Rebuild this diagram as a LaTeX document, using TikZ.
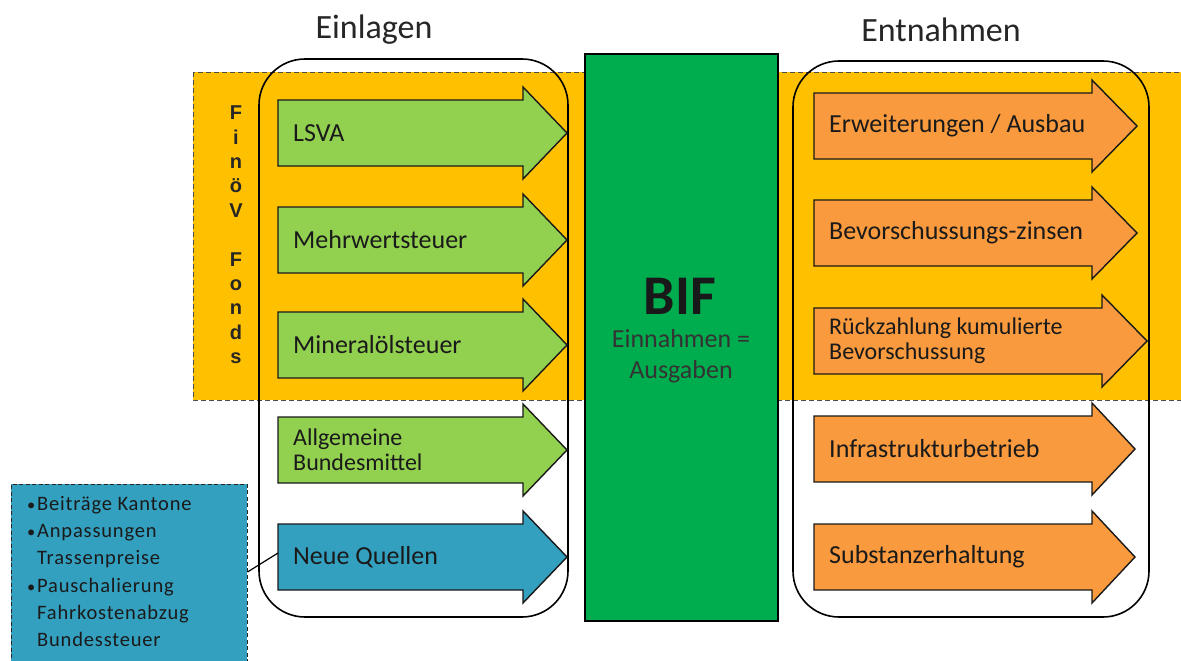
\documentclass[tikz,border=0pt]{standalone}
\usepackage{fontspec}
\setmainfont{Carlito}
\newfontfamily\finfont{Liberation Sans}
\newfontfamily\spacedfont{Carlito}[LetterSpace=4]
\definecolor{bandyellow}{HTML}{FFC000}
\definecolor{arrgreen}{HTML}{92D050}
\definecolor{arrorange}{HTML}{F99A3E}
\definecolor{arrblue}{HTML}{34A0C0}
\definecolor{bifgreen}{HTML}{00AD4E}
\definecolor{txtdark}{HTML}{1A1A1A}
\newcommand\flowarrow[7]{%
  \draw[arrowline, fill=#6] (#2,#3-33) -- (#4,#3-33) -- (#4,#3-46) -- (#5,#3) -- (#4,#3+46) -- (#4,#3+33) -- (#2,#3+33) -- cycle;
  \node[arrtext] (#1) at (#2+15,#3) {#7};
  \coordinate (#1-tail) at (#2,#3);
}
\tikzset{
  arrowline/.style={draw=black!90, line width=1.4pt, line join=miter},
  arrtext/.style={anchor=west, inner sep=0pt, text=txtdark, font=\fontsize{26}{25}\selectfont, align=left},
  groupbox/.style={draw=black, line width=1.6pt, rounded corners=46pt},
  header/.style={font=\fontsize{34}{36}\selectfont, text=black!85},
}
\begin{document}
\begin{tikzpicture}[x=1pt,y=-1pt]
\useasboundingbox (0,0) rectangle (1181,661);
% Fonds band
\draw[fill=bandyellow, draw=black!70, dashed, line width=0.8pt, dash pattern=on 5pt off 3pt] (193,72) rectangle (1190,400);
\node[font=\finfont\bfseries\fontsize{20}{24.4}\selectfont, align=center, inner sep=0pt, text=black!85] (finoev) at (236,235)
  {F\\i\\n\\ö\\V\\\mbox{}\\F\\o\\n\\d\\s};
% headers
\node[header] (einlagen) at (374,30) {Einlagen};
\node[header] (entnahmen) at (941,30) {Entnahmen};
% group boxes
\draw[groupbox] (259,59) rectangle (568,617);
\draw[groupbox] (793,61) rectangle (1149,617);
% BIF
\draw[fill=bifgreen, draw=black, line width=1.2pt] (585,54) rectangle (778,621);
\node[font=\bfseries\fontsize{56}{60}\selectfont, text=black!90] (bif) at (680,296) {BIF};
\node[font=\fontsize{26}{31}\selectfont, align=center, text=black!80] (bifsub) at (681,356) {Einnahmen =\\Ausgaben};
% left arrows
\flowarrow{lsva}{278}{133}{523}{567}{arrgreen}{LSVA}
\flowarrow{mwst}{278}{240}{523}{567}{arrgreen}{Mehrwertsteuer}
\flowarrow{minoel}{278}{345}{523}{567}{arrgreen}{Mineralölsteuer}
\flowarrow{bund}{278}{450}{523}{567}{arrgreen}{\fontsize{24}{25}\selectfont Allgemeine\\\fontsize{24}{25}\selectfont Bundesmittel}
\flowarrow{neue}{278}{557}{523}{567}{arrblue}{Neue Quellen}
% right arrows
\flowarrow{erw}{814}{126}{1092}{1137}{arrorange}{Erweiterungen / Ausbau}
\flowarrow{zins}{814}{233}{1092}{1137}{arrorange}{Bevorschussungs-zinsen}
\flowarrow{rueck}{814}{341}{1102}{1147}{arrorange}{\fontsize{24}{24}\selectfont Rückzahlung kumulierte\\\fontsize{24}{24}\selectfont Bevorschussung}
\flowarrow{infra}{814}{449}{1092}{1135}{arrorange}{Infrastrukturbetrieb}
\flowarrow{subst}{814}{557}{1092}{1135}{arrorange}{Substanzerhaltung}
% blue box
\node[draw=black!85, dashed, line width=1pt, dash pattern=on 4pt off 2.5pt, fill=arrblue, minimum width=236pt, minimum height=190pt, inner sep=0pt] (blue) at (129,579) {};
\node[anchor=north west, inner sep=0pt, align=left, text=txtdark, font=\spacedfont\fontsize{20.5}{27.3}\selectfont] (bluetext) at (27,496)
  {\makebox[10pt][l]{\scalebox{0.8}{•}}Beiträge Kantone\\
   \makebox[10pt][l]{\scalebox{0.8}{•}}Anpassungen\\
   \hspace*{10pt}Trassenpreise\\
   \makebox[10pt][l]{\scalebox{0.8}{•}}Pauschalierung\\
   \hspace*{10pt}Fahrkostenabzug\\
   \hspace*{10pt}Bundessteuer};
\draw[black, line width=1.2pt] ([yshift=7pt]blue.east) -- ([yshift=4pt]neue-tail);
\end{tikzpicture}
\end{document}
